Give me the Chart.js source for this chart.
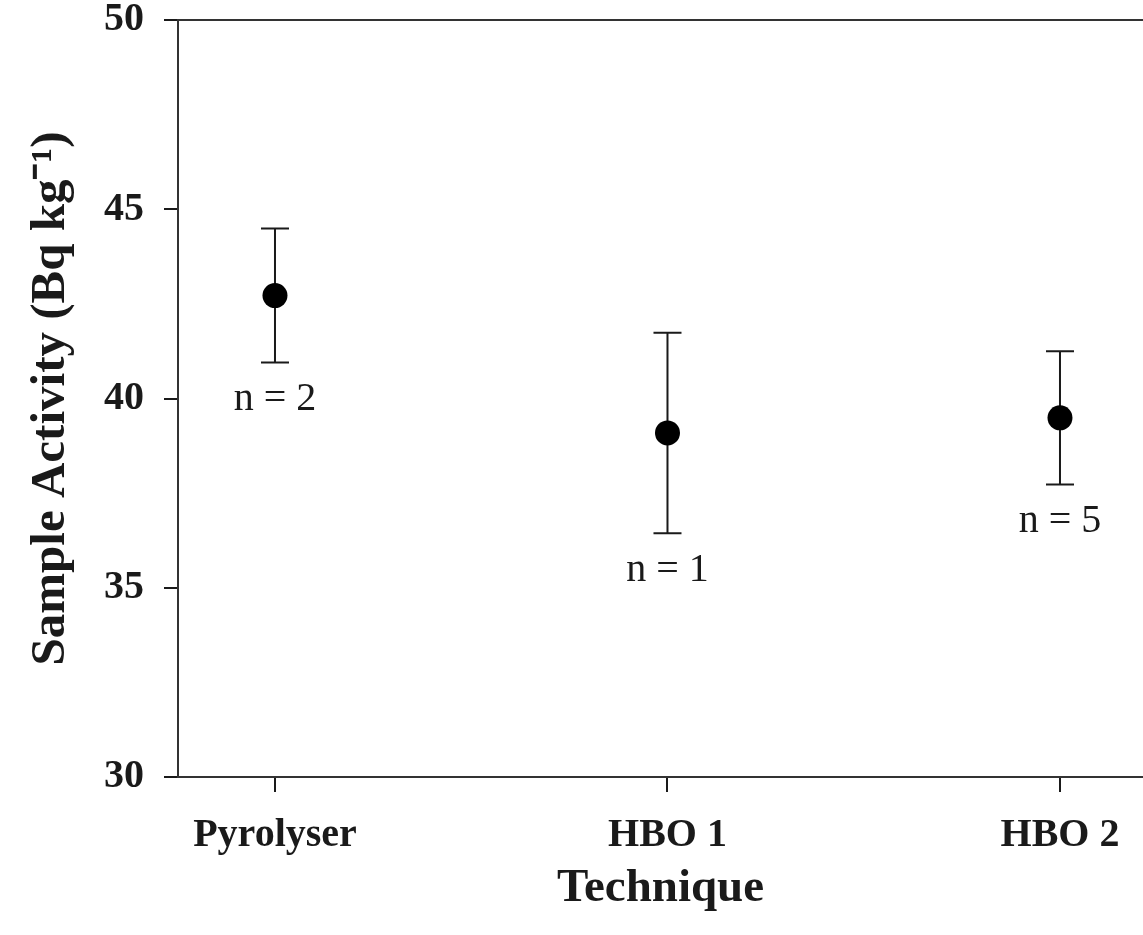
<!DOCTYPE html>
<html>
<head>
<meta charset="utf-8">
<script src="https://cdn.jsdelivr.net/npm/chart.js@4/dist/chart.umd.min.js"></script>
<style>
  html, body { margin: 0; padding: 0; background: #fff; }
  #wrap { width: 1143px; height: 935px; position: relative; }
</style>
</head>
<body>
<div id="wrap"><canvas id="chart"></canvas></div>
<script>
// ---------- DATA ----------
const categories = ["Pyrolyser", "HBO 1", "HBO 2"];
const means = [42.72, 39.09, 39.49];
const errors = [1.77, 2.65, 1.76];
const sampleCounts = ["n = 2", "n = 1", "n = 5"];
const yTicks = [30, 35, 40, 45, 50];

const serif = "'Liberation Serif', 'Times New Roman', serif";
const ink = "#1a1a1a";

// ---------- ERROR BARS + n LABELS ----------
const errorBars = {
  id: "errorBars",
  beforeDatasetsDraw(chart) {
    const { ctx, scales: { x, y } } = chart;
    ctx.save();
    ctx.strokeStyle = ink;
    ctx.lineWidth = 2;
    means.forEach((m, i) => {
      const px = x.getPixelForValue(i);
      const top = y.getPixelForValue(m + errors[i]);
      const bot = y.getPixelForValue(m - errors[i]);
      ctx.beginPath();
      ctx.moveTo(px, top); ctx.lineTo(px, bot);
      ctx.moveTo(px - 14, top); ctx.lineTo(px + 14, top);
      ctx.moveTo(px - 14, bot); ctx.lineTo(px + 14, bot);
      ctx.stroke();
    });
    ctx.restore();
  },
  afterDatasetsDraw(chart) {
    const { ctx, scales: { x, y } } = chart;
    ctx.save();
    ctx.fillStyle = ink;
    ctx.font = "40px " + serif;
    ctx.textAlign = "center";
    ctx.textBaseline = "middle";
    sampleCounts.forEach((label, i) => {
      const px = x.getPixelForValue(i);
      const bot = y.getPixelForValue(means[i] - errors[i]);
      ctx.fillText(label, px, bot + 37);
    });
    ctx.restore();
  }
};

// no automatic padding for half-labels at axis ends
function noPad(s) {
  s.paddingTop = 0; s.paddingBottom = 0;
  s.paddingLeft = 0; s.paddingRight = 0;
}

// ---------- CHART ----------
new Chart(document.getElementById("chart"), {
  type: "scatter",
  data: {
    datasets: [{
      label: "Sample Activity",
      data: means.map((m, i) => ({ x: i, y: m })),
      pointRadius: 12.5,
      pointHoverRadius: 12.5,
      pointBackgroundColor: "#000",
      pointBorderColor: "#000",
      pointBorderWidth: 0
    }]
  },
  options: {
    responsive: true,
    maintainAspectRatio: false,
    animation: false,
    layout: { padding: 0, autoPadding: false },
    plugins: { legend: { display: false }, tooltip: { enabled: false } },
    scales: {
      x: {
        type: "linear",
        position: "bottom",
        min: -0.2471,
        max: 2.2115,
        afterBuildTicks: s => { s.ticks = categories.map((c, i) => ({ value: i })); },
        afterFit: s => { s.height = 158; noPad(s); },
        ticks: {
          callback: v => categories[v],
          color: ink,
          font: { family: serif, size: 40, weight: "bold" },
          padding: 20,
          maxRotation: 0,
          autoSkip: false
        },
        grid: { drawOnChartArea: false, tickLength: 15, color: ink, lineWidth: 2 },
        border: { display: true, color: "#333", width: 2 },
        title: {
          display: true,
          text: "Technique",
          color: ink,
          font: { family: serif, size: 47, weight: "bold" },
          padding: { top: 0, bottom: 18 }
        }
      },
      xTop: {
        type: "linear",
        position: "top",
        min: -0.2471,
        max: 2.2115,
        afterFit: s => { s.height = 20; noPad(s); },
        ticks: { display: false },
        grid: { display: false },
        border: { display: true, color: "#333", width: 2 }
      },
      y: {
        min: 30,
        max: 50,
        afterBuildTicks: s => { s.ticks = yTicks.map(v => ({ value: v })); },
        afterFit: s => { s.width = 178; noPad(s); },
        ticks: {
          color: ink,
          font: { family: serif, size: 40, weight: "bold" },
          padding: 20
        },
        grid: { drawOnChartArea: false, tickLength: 14, color: ink, lineWidth: 2 },
        border: { display: true, color: "#333", width: 2 },
        title: {
          display: true,
          text: "Sample Activity (Bq kg\u207B\u00B9)",
          color: ink,
          font: { family: serif, size: 49, weight: "bold" },
          padding: { top: 22, bottom: 0 }
        }
      }
    }
  },
  plugins: [errorBars]
});
</script>
</body>
</html>
